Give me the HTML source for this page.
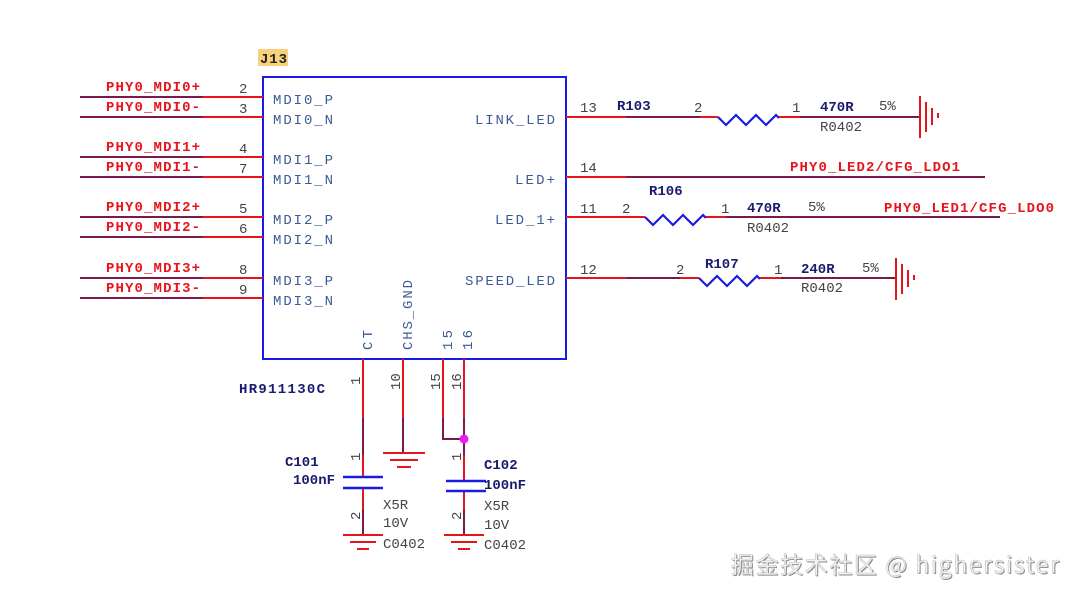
<!DOCTYPE html>
<html><head><meta charset="utf-8"><style>
html,body{margin:0;padding:0;background:#fff;}
svg{display:block;}
.lab{font-family:"Liberation Mono",monospace;font-weight:bold;fill:#e8141c;font-size:14px;}
.pn{font-family:"Liberation Mono",monospace;fill:#444;font-size:14px;}
.in{font-family:"Liberation Mono",monospace;fill:#3c5a96;font-size:14px;}
.nv{font-family:"Liberation Mono",monospace;font-weight:bold;fill:#1a1a6e;font-size:14px;}
</style></head><body>
<svg width="1078" height="599" viewBox="0 0 1078 599" xmlns="http://www.w3.org/2000/svg">
<rect width="1078" height="599" fill="#fff"/>
<rect x="258" y="49" width="30" height="17" fill="#f7d27a"/>
<text x="260" y="63" class="nv" style="fill:#222" textLength="27">J13</text>
<rect x="263" y="77" width="303" height="282" fill="none" stroke="#1a1ae0" stroke-width="2"/>
<g stroke-width="2">
<g stroke="#7a1a4a">
<line x1="80" y1="97" x2="203" y2="97"/><line x1="80" y1="117" x2="203" y2="117"/>
<line x1="80" y1="157" x2="203" y2="157"/><line x1="80" y1="177" x2="203" y2="177"/>
<line x1="80" y1="217" x2="203" y2="217"/><line x1="80" y1="237" x2="203" y2="237"/>
<line x1="80" y1="278" x2="203" y2="278"/><line x1="80" y1="298" x2="203" y2="298"/>
</g>
<g stroke="#e8141c">
<line x1="203" y1="97" x2="263" y2="97"/><line x1="203" y1="117" x2="263" y2="117"/>
<line x1="203" y1="157" x2="263" y2="157"/><line x1="203" y1="177" x2="263" y2="177"/>
<line x1="203" y1="217" x2="263" y2="217"/><line x1="203" y1="237" x2="263" y2="237"/>
<line x1="203" y1="278" x2="263" y2="278"/><line x1="203" y1="298" x2="263" y2="298"/>
</g>
</g>
<g class="lab">
<text x="106" y="91" textLength="94">PHY0_MDI0+</text>
<text x="106" y="111" textLength="94">PHY0_MDI0-</text>
<text x="106" y="151" textLength="94">PHY0_MDI1+</text>
<text x="106" y="171" textLength="94">PHY0_MDI1-</text>
<text x="106" y="211" textLength="94">PHY0_MDI2+</text>
<text x="106" y="231" textLength="94">PHY0_MDI2-</text>
<text x="106" y="272" textLength="94">PHY0_MDI3+</text>
<text x="106" y="292" textLength="94">PHY0_MDI3-</text>
</g>
<g class="pn">
<text x="239" y="93">2</text><text x="239" y="113">3</text>
<text x="239" y="153">4</text><text x="239" y="173">7</text>
<text x="239" y="213">5</text><text x="239" y="233">6</text>
<text x="239" y="274">8</text><text x="239" y="294">9</text>
</g>
<g class="in">
<text x="273" y="104" textLength="60">MDI0_P</text><text x="273" y="124" textLength="60">MDI0_N</text>
<text x="273" y="164" textLength="60">MDI1_P</text><text x="273" y="184" textLength="60">MDI1_N</text>
<text x="273" y="224" textLength="60">MDI2_P</text><text x="273" y="244" textLength="60">MDI2_N</text>
<text x="273" y="285" textLength="60">MDI3_P</text><text x="273" y="305" textLength="60">MDI3_N</text>
<text x="475" y="124" textLength="80">LINK_LED</text>
<text x="515" y="184" textLength="40">LED+</text>
<text x="495" y="224" textLength="60">LED_1+</text>
<text x="465" y="285" textLength="90">SPEED_LED</text>
<text transform="translate(372,350) rotate(-90)" textLength="20">CT</text>
<text transform="translate(412,350) rotate(-90)" textLength="70">CHS_GND</text>
<text transform="translate(452,350) rotate(-90)" textLength="20">15</text>
<text transform="translate(472,350) rotate(-90)" textLength="20">16</text>
</g>
<g stroke-width="2" fill="none">
<path d="M566 117H626" stroke="#e8141c"/>
<path d="M626 117H700" stroke="#7a1a4a"/>
<path d="M700 117H718" stroke="#e8141c"/>
<path d="M718 117l8 8 10-10 10 10 10-10 10 10 10-10 3 3" stroke="#1a1ae0" stroke-width="2.2"/>
<path d="M779 117H800" stroke="#e8141c"/>
<path d="M800 117H920" stroke="#7a1a4a"/>
<path d="M920 96V138M926 102V132M932 108V125M938 113V118" stroke="#e8141c"/>
<path d="M566 177H626" stroke="#e8141c"/>
<path d="M626 177H985" stroke="#7a1a4a"/>
<path d="M566 217H645" stroke="#e8141c"/>
<path d="M645 217l8 8 10-10 10 10 10-10 10 10 10-10 3 3" stroke="#1a1ae0" stroke-width="2.2"/>
<path d="M706 217H726" stroke="#e8141c"/>
<path d="M726 217H1000" stroke="#7a1a4a"/>
<path d="M566 278H626" stroke="#e8141c"/>
<path d="M626 278H680" stroke="#7a1a4a"/>
<path d="M680 278H699" stroke="#e8141c"/>
<path d="M699 278l8 8 10-10 10 10 10-10 10 10 10-10 3 3" stroke="#1a1ae0" stroke-width="2.2"/>
<path d="M760 278H781" stroke="#e8141c"/>
<path d="M781 278H896" stroke="#7a1a4a"/>
<path d="M896 258V300M902 264V294M908 270V287M914 275V280" stroke="#e8141c"/>
</g>
<g class="pn">
<text x="580" y="112">13</text><text x="694" y="112">2</text><text x="792" y="112">1</text>
<text x="580" y="172">14</text>
<text x="580" y="213">11</text><text x="622" y="213">2</text><text x="721" y="213">1</text>
<text x="580" y="274">12</text><text x="676" y="274">2</text><text x="774" y="274">1</text>
<text x="879" y="110">5%</text><text x="808" y="211">5%</text><text x="862" y="272">5%</text>
<text x="820" y="131">R0402</text><text x="747" y="232">R0402</text><text x="801" y="292">R0402</text>
</g>
<g class="nv">
<text x="617" y="110">R103</text><text x="820" y="111">470R</text>
<text x="649" y="195">R106</text><text x="747" y="212">470R</text>
<text x="705" y="268">R107</text><text x="801" y="273">240R</text>
</g>
<g class="lab">
<text x="790" y="171" textLength="170">PHY0_LED2/CFG_LDO1</text>
<text x="884" y="212" textLength="170">PHY0_LED1/CFG_LDO0</text>
</g>
<g stroke-width="2" fill="none">
<path d="M363 359V418M403 359V418M443 359V418M464 359V418" stroke="#e8141c"/>
<path d="M363 418V455M403 418V453M443 418V439H464M464 418V455" stroke="#7a1a4a"/>
<path d="M363 455V477M363 488V510M464 455V481M464 491V510" stroke="#e8141c"/>
<path d="M363 510V535M464 510V535" stroke="#7a1a4a"/>
<path d="M343 477H383M343 488H383M446 481H486M446 491H486" stroke="#1a1ae0" stroke-width="2.5"/>
<path d="M343 535H383M350 542H376M357 549H369" stroke="#e8141c"/>
<path d="M444 535H484M451 542H477M458 549H470" stroke="#e8141c"/>
<path d="M383 453H425M390 460H418M397 467H411" stroke="#e8141c"/>
</g>
<circle cx="464" cy="439" r="4.5" fill="#e81ce8"/>
<g class="pn">
<text transform="translate(360,385) rotate(-90)">1</text>
<text transform="translate(400,390) rotate(-90)">10</text>
<text transform="translate(440,390) rotate(-90)">15</text>
<text transform="translate(461,390) rotate(-90)">16</text>
<text transform="translate(360,461) rotate(-90)">1</text>
<text transform="translate(461,461) rotate(-90)">1</text>
<text transform="translate(360,520) rotate(-90)">2</text>
<text transform="translate(461,520) rotate(-90)">2</text>
<text x="383" y="509">X5R</text><text x="383" y="527">10V</text><text x="383" y="548">C0402</text>
<text x="484" y="510">X5R</text><text x="484" y="529">10V</text><text x="484" y="549">C0402</text>
</g>
<g class="nv">
<text x="239" y="393" textLength="86">HR911130C</text>
<text x="285" y="466">C101</text><text x="293" y="484">100nF</text>
<text x="484" y="469">C102</text><text x="484" y="489">100nF</text>
</g>
<text x="731" y="573" font-family="'Noto Sans CJK SC','Liberation Sans',sans-serif" font-size="23" fill="#888" transform="translate(1,1)" textLength="328">掘金技术社区 @ highersister</text>
<text x="731" y="573" font-family="'Noto Sans CJK SC','Liberation Sans',sans-serif" font-size="23" fill="#f4f4f4" stroke="#bbb" stroke-width="0.5" textLength="328">掘金技术社区 @ highersister</text>
</svg>
</body></html>
